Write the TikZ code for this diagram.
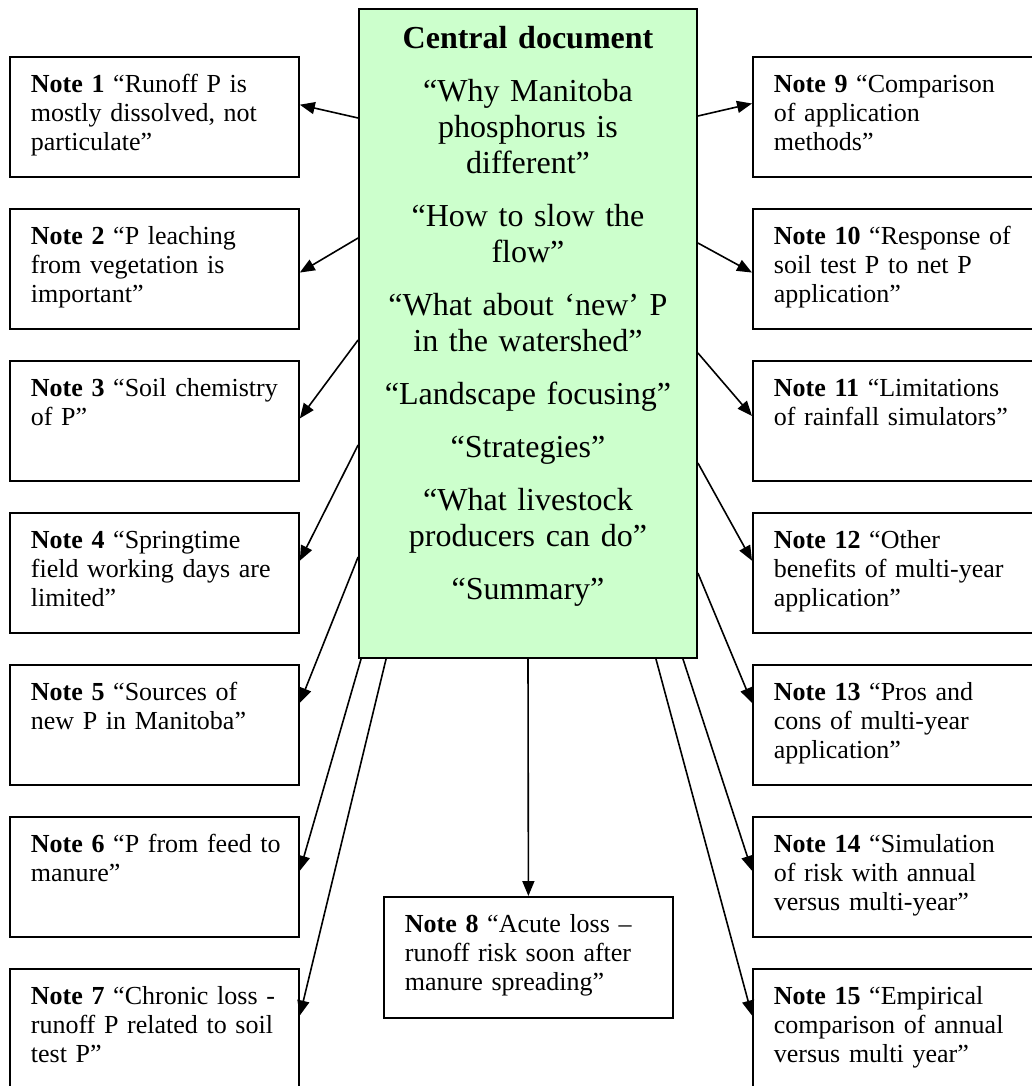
\documentclass[tikz,border=0pt]{standalone}
\usepackage{fontspec}
\setmainfont{Liberation Serif}
\usetikzlibrary{arrows.meta,calc}
\definecolor{centfill}{RGB}{204,255,204}
\tikzset{note/.style={draw,line width=1.8pt,anchor=north west,align=left,text width=247pt,
    inner xsep=21pt,inner ysep=14pt,text height=22pt,text depth=70pt,
    font=\fontsize{26}{29}\selectfont},
  central/.style={draw,line width=1.8pt,fill=centfill,anchor=north,align=center,text width=306pt,
    inner xsep=16pt,inner ysep=16pt,text height=24pt,text depth=593pt,
    font=\fontsize{32}{36}\selectfont},
  flow/.style={-{Triangle[length=15pt,width=12pt]},line width=1.6pt}}

\begin{document}
\begin{tikzpicture}[x=1pt,y=-1pt]
\useasboundingbox (0,0) rectangle (1032,1086);
\node[central] (cent) at (528,8) {\textbf{Central document}\\[17pt]
  “Why Manitoba\\phosphorus is\\different”\\[17pt]
  “How to slow the\\flow”\\[17pt]
  “What about ‘new’ P\\in the watershed”\\[17pt]
  “Landscape focusing”\\[17pt]
  “Strategies”\\[17pt]
  “What livestock\\producers can do”\\[17pt]
  “Summary”};
% left column
\node[note] (n1) at (9,56) {\textbf{Note 1} “Runoff P is\\mostly dissolved, not\\particulate”};
\node[note] (n2) at (9,208) {\textbf{Note 2} “P leaching\\from vegetation is\\important”};
\node[note] (n3) at (9,360) {\textbf{Note 3} “Soil chemistry\\of P”};
\node[note] (n4) at (9,512) {\textbf{Note 4} “Springtime\\field working days are\\limited”};
\node[note] (n5) at (9,664) {\textbf{Note 5} “Sources of\\new P in Manitoba”};
\node[note] (n6) at (9,816) {\mbox{\textbf{Note 6} “P from feed to}\\manure”};
\node[note] (n7) at (9,968) {\textbf{Note 7} “Chronic loss -\\runoff P related to soil\\test P”};
% bottom
\node[note,text depth=71pt] (n8) at (383,896) {\textbf{Note 8} “Acute loss –\\runoff risk soon after\\manure spreading”};
% right column
\node[note] (n9) at (752,56) {\textbf{Note 9} “Comparison\\of application\\methods”};
\node[note] (n10) at (752,208) {\textbf{Note 10} “Response of\\soil test P to net P\\application”};
\node[note] (n11) at (752,360) {\textbf{Note 11} “Limitations\\of rainfall simulators”};
\node[note] (n12) at (752,512) {\textbf{Note 12} “Other\\benefits of multi-year\\application”};
\node[note] (n13) at (752,664) {\textbf{Note 13} “Pros and\\cons of multi-year\\application”};
\node[note] (n14) at (752,816) {\textbf{Note 14} “Simulation\\of risk with annual\\versus multi-year”};
\node[note] (n15) at (752,968) {\textbf{Note 15} “Empirical\\comparison of annual\\versus multi year”};
% connectors
\foreach \i/\off/\fr in {1/110/0.4,2/230/0.53,3/332/0.48,4/437/0.4,5/549/0.32}
  \draw[flow] ($(cent.north west)+(0,\off)$) -- ($(n\i.north east)!\fr!(n\i.south east)$);
\foreach \i/\off/\fr in {9/108/0.39,10/235/0.53,11/345/0.46,12/455/0.4,13/565/0.32}
  \draw[flow] ($(cent.north east)+(0,\off)$) -- ($(n\i.north west)!\fr!(n\i.south west)$);
\draw[flow] ($(cent.south west)+(3,0)$) -- ($(n6.north east)!0.45!(n6.south east)$);
\draw[flow] ($(cent.south west)+(28,0)$) -- ($(n7.north east)!0.39!(n7.south east)$);
\draw[flow] (cent.south) -- (n8.north);
\draw[flow] ($(cent.south east)+(-15,0)$) -- ($(n14.north west)!0.45!(n14.south west)$);
\draw[flow] ($(cent.south east)+(-42,0)$) -- ($(n15.north west)!0.39!(n15.south west)$);
\end{tikzpicture}
\end{document}
